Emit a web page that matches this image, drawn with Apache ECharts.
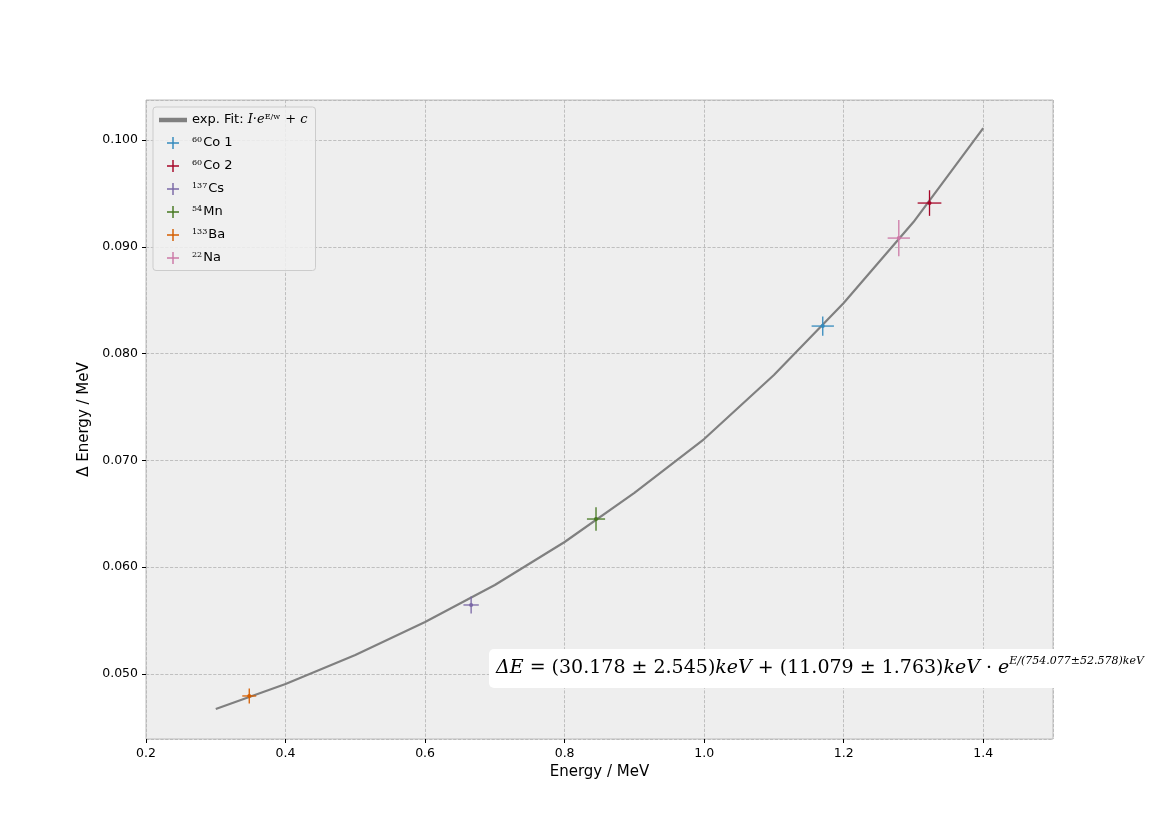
<!DOCTYPE html>
<html><head><meta charset="utf-8">
<script src="https://cdn.jsdelivr.net/npm/echarts@6/dist/echarts.min.js"></script>
<style>html,body{margin:0;background:#fff}#c{width:1170px;height:830px}</style>
</head><body><div id="c"></div>
<script>
const fitE = [0.3,0.4,0.5,0.6,0.7,0.8,0.9,1.0,1.1,1.2,1.3,1.4];
const fitDE = [0.04672,0.04906,0.05178,0.05487,0.05833,0.06236,0.06695,0.07200,0.07800,0.08474,0.09232,0.10112];
const names = ['60Co 1','60Co 2','137Cs','54Mn','133Ba','22Na'];
const labels = ['{s|60}Co 1','{s|60}Co 2','{s|137}Cs','{s|54}Mn','{s|133}Ba','{s|22}Na'];
const colors = ['#348ABD','#A60628','#7A68A6','#467821','#D55E00','#CC79A7'];
const ptE = [1.170,1.323,0.666,0.845,0.348,1.279];
const ptDE = [0.08258,0.0941,0.05646,0.06451,0.04794,0.09082];
const errE = [0.016,0.017,0.011,0.013,0.010,0.016];
const errDE = [0.0009,0.0012,0.0008,0.0011,0.0007,0.0017];

const chart = echarts.init(document.getElementById('c'));
const series = [{
  name:'fit', type:'line', data: fitE.map((e,i)=>[e,fitDE[i]]), showSymbol:false,
  lineStyle:{color:'#808080',width:2.2}, itemStyle:{color:'#808080'}, z:3, silent:true
}];
names.forEach((n,i)=>{
  series.push({
    name:n, type:'custom', itemStyle:{color:colors[i]}, z:4,
    data:[[ptE[i],ptDE[i],errE[i],errDE[i]]],
    renderItem:(p,api)=>{
      const x=api.value(0),y=api.value(1),ex=api.value(2),ey=api.value(3);
      const a=api.coord([x-ex,y]),b=api.coord([x+ex,y]),c=api.coord([x,y-ey]),d=api.coord([x,y+ey]),m=api.coord([x,y]);
      const st={stroke:colors[i],lineWidth:1.3};
      return {type:'group',children:[
        {type:'line',shape:{x1:a[0],y1:a[1],x2:b[0],y2:b[1]},style:st},
        {type:'line',shape:{x1:c[0],y1:c[1],x2:d[0],y2:d[1]},style:st},
        {type:'circle',shape:{cx:m[0],cy:m[1],r:2},style:{fill:colors[i]}}
      ]};
    }
  });
});
const plus='path://M4.4,0h1.2v4.4h4.4v1.2h-4.4v4.4h-1.2v-4.4h-4.4v-1.2h4.4z';
const legendData=[{name:'fit',icon:'path://M0,0h10v1.6h-10z'}].concat(names.map(n=>({name:n,icon:plus})));
chart.setOption({
  animation:false,
  grid:{left:146,right:117,top:100,bottom:91,show:true,backgroundColor:'#EEEEEE',borderColor:'#BCBCBC',borderWidth:1},
  xAxis:{type:'value',min:0.2,max:1.5,interval:0.2,name:'Energy / MeV',nameLocation:'middle',nameGap:23,
    nameTextStyle:{fontSize:15,color:'#000',fontFamily:'DejaVu Sans'},
    axisLine:{show:false},axisTick:{show:true,length:4,lineStyle:{color:'#000'}},
    axisLabel:{color:'#000',fontSize:12.5,fontFamily:'DejaVu Sans',formatter:v=>v.toFixed(1),showMaxLabel:false},
    splitLine:{lineStyle:{color:'#B2B2B2',type:'dashed',width:0.8}}},
  yAxis:{type:'value',min:0.04391,max:0.10375,splitNumber:6,name:'Δ Energy / MeV',nameLocation:'middle',nameGap:44,
    nameTextStyle:{fontSize:15,color:'#000',fontFamily:'DejaVu Sans'},
    axisLine:{show:false},axisTick:{show:true,length:4,lineStyle:{color:'#000'}},
    axisLabel:{color:'#000',fontSize:12.5,fontFamily:'DejaVu Sans',formatter:v=>v.toFixed(3),showMinLabel:false,showMaxLabel:false},
    splitLine:{lineStyle:{color:'#B2B2B2',type:'dashed',width:0.8}}},
  legend:{orient:'vertical',left:153,top:107,itemWidth:28,itemHeight:12,itemGap:9.5,
    backgroundColor:'rgba(240,240,240,0.85)',borderColor:'#CCCCCC',borderWidth:1,borderRadius:3,padding:[6,8,6,6],
    data:legendData,
    formatter:n=>n==='fit'?'exp. Fit: {i|I·e}{s|E/w}{i| + c}':labels[names.indexOf(n)],
    textStyle:{fontSize:13,color:'#000',fontFamily:'DejaVu Sans',
      rich:{s:{fontSize:8,verticalAlign:'top',padding:[0,1,6,0],fontFamily:'DejaVu Serif'},
            i:{fontSize:13,fontStyle:'italic',fontFamily:'DejaVu Serif'}}}},
  graphic:[{type:'text',left:489,top:649,z:10,
    style:{text:'{i|ΔE} = (30.178 ± 2.545){i|keV} + (11.079 ± 1.763){i|keV} · {i|e}{s|E/(754.077±52.578)keV}',
      fontSize:19,fontFamily:'DejaVu Serif',fill:'#000',backgroundColor:'#fff',borderRadius:5,padding:[7,6,7,7],
      rich:{i:{fontSize:19,fontStyle:'italic',fontFamily:'DejaVu Serif'},
            s:{fontSize:11,fontFamily:'DejaVu Serif',fontStyle:'italic',verticalAlign:'top',padding:[0,0,14,0]}}}}],
  series
});
</script></body></html>
